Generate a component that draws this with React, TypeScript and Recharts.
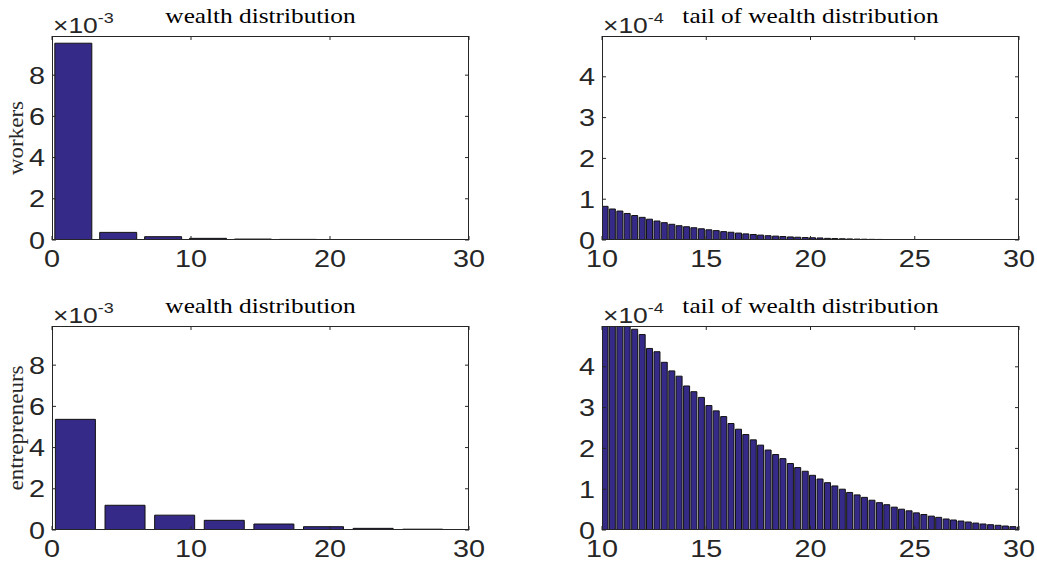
import React from 'react';
import { BarChart, Bar, XAxis, YAxis } from 'recharts';

// ---------- data ----------
// coarse histograms (0..30)
const workersBins = [1.53, 4.76, 7.99, 11.22, 14.45, 17.68, 20.91, 24.14, 27.37];
const workersDensity = [9.55e-3, 0.37e-3, 0.16e-3, 0.08e-3, 0.045e-3, 0.03e-3, 0.022e-3, 0.016e-3, 0.012e-3];

const entreBins = [1.67, 5.24, 8.81, 12.38, 15.95, 19.52, 23.09, 26.66, 30.23];
const entreDensity = [5.37e-3, 1.2e-3, 0.72e-3, 0.47e-3, 0.29e-3, 0.16e-3, 0.08e-3, 0.04e-3, 0.02e-3];

// tail histograms (10..30)
const tailBins = [
  10.13, 10.48, 10.84, 11.19, 11.55, 11.91, 12.26, 12.62, 12.97, 13.33,
  13.68, 14.04, 14.39, 14.75, 15.11, 15.46, 15.82, 16.17, 16.53, 16.88,
  17.24, 17.59, 17.95, 18.31, 18.66, 19.02, 19.37, 19.73, 20.08, 20.44,
  20.80, 21.15, 21.51, 21.86, 22.22, 22.57, 22.93, 23.29, 23.64, 24.00,
  24.35, 24.71, 25.06, 25.42, 25.78, 26.13, 26.49, 26.84, 27.20, 27.55,
  27.91, 28.26, 28.62, 28.98, 29.33, 29.69, 30.04,
];
const workersTail = [
  0.825e-4, 0.76e-4, 0.71e-4, 0.65e-4, 0.60e-4, 0.555e-4, 0.51e-4, 0.465e-4, 0.425e-4, 0.385e-4,
  0.35e-4, 0.325e-4, 0.30e-4, 0.275e-4, 0.25e-4, 0.23e-4, 0.205e-4, 0.19e-4, 0.17e-4, 0.15e-4,
  0.135e-4, 0.12e-4, 0.105e-4, 0.095e-4, 0.085e-4, 0.075e-4, 0.068e-4, 0.06e-4, 0.055e-4, 0.05e-4,
  0.04e-4, 0.035e-4, 0.03e-4, 0.026e-4, 0.022e-4, 0.019e-4, 0.016e-4, 0.014e-4, 0.012e-4, 0.01e-4,
  0.009e-4, 0.008e-4, 0.007e-4, 0.006e-4, 0.005e-4, 0.0045e-4, 0.004e-4, 0.0035e-4, 0.003e-4, 0.0027e-4,
  0.0024e-4, 0.0021e-4, 0.0019e-4, 0.0017e-4, 0.0015e-4, 0.0013e-4, 0.0012e-4,
];
const entreTail = [
  5.6e-4, 5.45e-4, 5.3e-4, 5.1e-4, 4.92e-4, 4.79e-4, 4.45e-4, 4.37e-4, 4.11e-4, 3.90e-4,
  3.77e-4, 3.53e-4, 3.39e-4, 3.25e-4, 3.05e-4, 2.92e-4, 2.78e-4, 2.61e-4, 2.47e-4, 2.34e-4,
  2.21e-4, 2.08e-4, 1.96e-4, 1.85e-4, 1.75e-4, 1.63e-4, 1.53e-4, 1.44e-4, 1.34e-4, 1.25e-4,
  1.16e-4, 1.08e-4, 1.00e-4, 0.92e-4, 0.86e-4, 0.80e-4, 0.73e-4, 0.67e-4, 0.62e-4, 0.56e-4,
  0.51e-4, 0.47e-4, 0.42e-4, 0.38e-4, 0.34e-4, 0.31e-4, 0.27e-4, 0.245e-4, 0.22e-4, 0.196e-4,
  0.17e-4, 0.147e-4, 0.13e-4, 0.115e-4, 0.098e-4, 0.082e-4, 0.07e-4,
];

const fullXTicks = [0, 10, 20, 30];
const tailXTicks = [10, 15, 20, 25, 30];
const fullYTicks = [0, 2e-3, 4e-3, 6e-3, 8e-3];
const tailYTicks = [0, 1e-4, 2e-4, 3e-4, 4e-4];

const titles = ['wealth distribution', 'tail of wealth distribution'];
const rowLabels = ['workers', 'entrepreneurs'];

// ---------- style ----------
const AX = '#262626';
const BAR_FILL = '#352a87';
const BAR_EDGE = '#111111';
const SANS = '"Liberation Sans", Arial, Helvetica, sans-serif';
const SERIF = '"Liberation Serif", "Times New Roman", serif';
const SX = 1.2;
const TICK_FS = 24;
const PLOT_W = 417;
const PLOT_H = 204;
const ML = 60; // y axis width
const MT = 40;
const MR = 30;
const XH = 40;

const zip = (xs: number[], ys: number[]) => xs.map((x, i) => ({ x, y: ys[i] }));

const makeXTick = () => (props: any) => {
  const { x, y, payload } = props;
  return (
    <g>
      <line x1={x} y1={y} x2={x} y2={y - 4} stroke={AX} strokeWidth={1} />
      <line x1={x} y1={y - PLOT_H} x2={x} y2={y - PLOT_H + 4} stroke={AX} strokeWidth={1} />
      <text
        transform={`translate(${x},${y + 27}) scale(${SX},1)`}
        textAnchor="middle"
        fontFamily={SANS}
        fontSize={TICK_FS}
        fill={AX}
      >
        {payload.value}
      </text>
    </g>
  );
};

const makeYTick = (factor: number) => (props: any) => {
  const { x, y, payload } = props;
  return (
    <g>
      <line x1={x} y1={y} x2={x + 4} y2={y} stroke={AX} strokeWidth={1} />
      <line x1={x + PLOT_W} y1={y} x2={x + PLOT_W - 4} y2={y} stroke={AX} strokeWidth={1} />
      <text
        transform={`translate(${x - 7},${y + 8.5}) scale(${SX},1)`}
        textAnchor="end"
        fontFamily={SANS}
        fontSize={TICK_FS}
        fill={AX}
      >
        {Math.round(payload.value * factor)}
      </text>
    </g>
  );
};

type PanelProps = {
  L: number;
  T: number;
  data: { x: number; y: number }[];
  xDomain: [number, number];
  xTicks: number[];
  yDomain: [number, number];
  yTicks: number[];
  factor: number;
  barSize: number;
};

const Panel = ({ L, T, data, xDomain, xTicks, yDomain, yTicks, factor, barSize }: PanelProps) => (
  <div style={{ position: 'absolute', left: L - ML, top: T - MT }}>
    <BarChart
      width={PLOT_W + ML + MR}
      height={PLOT_H + MT + XH}
      data={data}
      margin={{ top: MT, right: MR, bottom: 0, left: 0 }}
      barCategoryGap={0}
    >
      <XAxis
        dataKey="x"
        type="number"
        domain={xDomain}
        ticks={xTicks}
        interval={0}
        allowDataOverflow
        axisLine={false}
        tickLine={false}
        tickSize={0}
        tickMargin={0}
        height={XH}
        tick={makeXTick()}
      />
      <YAxis
        type="number"
        domain={yDomain}
        ticks={yTicks}
        interval={0}
        allowDataOverflow
        axisLine={false}
        tickLine={false}
        tickSize={0}
        tickMargin={0}
        width={ML}
        tick={makeYTick(factor)}
      />
      <Bar
        dataKey="y"
        fill={BAR_FILL}
        stroke={BAR_EDGE}
        strokeWidth={1}
        barSize={barSize}
        isAnimationActive={false}
      />
    </BarChart>
  </div>
);

const panels = [
  { L: 52, T: 36 },
  { L: 602, T: 36 },
  { L: 52, T: 326 },
  { L: 602, T: 326 },
];

export default function App() {
  return (
    <div
      style={{
        position: 'absolute',
        left: 0,
        top: 0,
        width: 1037,
        height: 565,
        overflow: 'hidden',
        background: '#ffffff',
      }}
    >
      <Panel
        {...panels[0]}
        data={zip(workersBins, workersDensity)}
        xDomain={[0, 30]}
        xTicks={fullXTicks}
        yDomain={[0, 0.0099]}
        yTicks={fullYTicks}
        factor={1e3}
        barSize={37}
      />
      <Panel
        {...panels[1]}
        data={zip(tailBins, workersTail)}
        xDomain={[10, 30]}
        xTicks={tailXTicks}
        yDomain={[0, 0.0005]}
        yTicks={tailYTicks}
        factor={1e4}
        barSize={6}
      />
      <Panel
        {...panels[2]}
        data={zip(entreBins, entreDensity)}
        xDomain={[0, 30]}
        xTicks={fullXTicks}
        yDomain={[0, 0.0099]}
        yTicks={fullYTicks}
        factor={1e3}
        barSize={40}
      />
      <Panel
        {...panels[3]}
        data={zip(tailBins, entreTail)}
        xDomain={[10, 30]}
        xTicks={tailXTicks}
        yDomain={[0, 0.0005]}
        yTicks={tailYTicks}
        factor={1e4}
        barSize={6}
      />
      <svg
        width={1037}
        height={565}
        style={{ position: 'absolute', left: 0, top: 0, pointerEvents: 'none' }}
      >
        {panels.map((p, i) => (
          <g key={i}>
            <rect x={p.L + 0.5} y={p.T + 0.5} width={PLOT_W - 1} height={PLOT_H - 1} fill="none" stroke={AX} strokeWidth={1} />
            <text
              transform={`translate(${p.L + PLOT_W / 2},${p.T - 13}) scale(1.15,1)`}
              textAnchor="middle"
              fontFamily={SERIF}
              fontSize={22}
              fill="#000"
            >
              {titles[i % 2]}
            </text>
            <text
              transform={`translate(${p.L + 1},${p.T - 3}) scale(1.2,1)`}
              fontFamily={SANS}
              fontSize={22}
              fill={AX}
            >
              ×10
              <tspan dy={-10} fontSize={15}>
                {i % 2 === 0 ? '-3' : '-4'}
              </tspan>
            </text>
          </g>
        ))}
        {rowLabels.map((lab, r) => (
          <text
            key={lab}
            transform={`translate(23,${panels[r * 2].T + PLOT_H / 2}) rotate(-90) scale(1.15,1)`}
            textAnchor="middle"
            fontFamily={SERIF}
            fontSize={20}
            fill={AX}
          >
            {lab}
          </text>
        ))}
      </svg>
    </div>
  );
}
